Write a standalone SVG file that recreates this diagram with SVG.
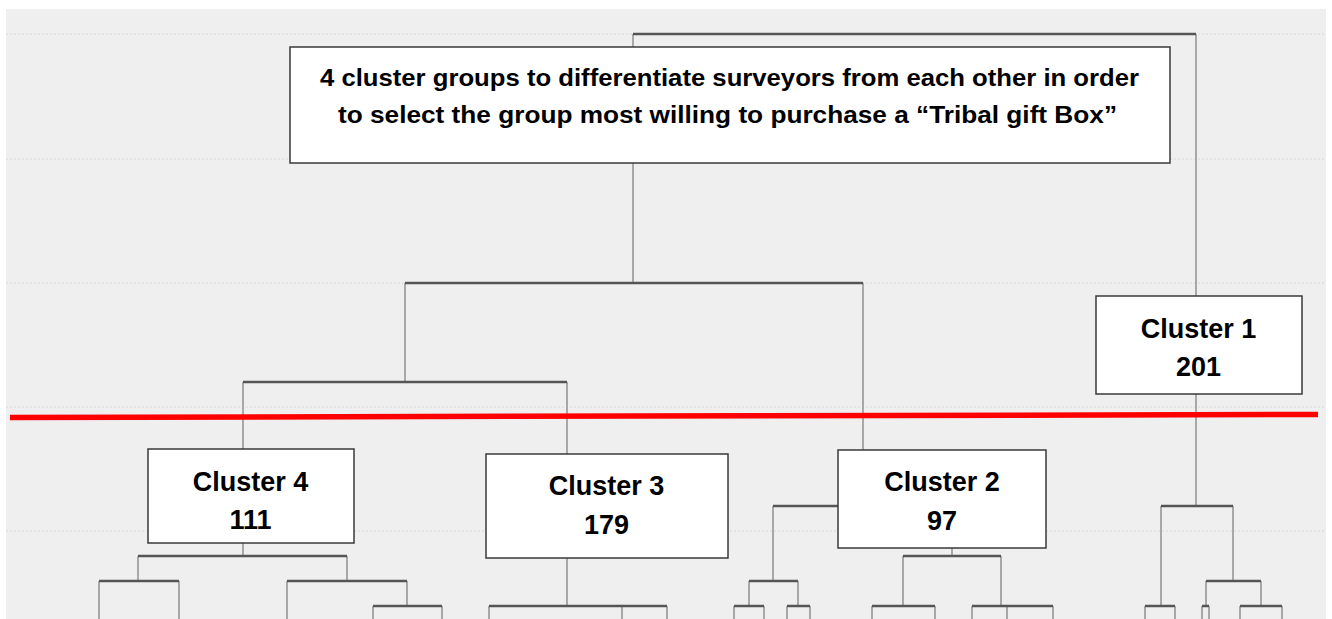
<svg xmlns="http://www.w3.org/2000/svg" width="1332" height="619" viewBox="0 0 1332 619">
<style>
.bg{fill:#efefef}
.grid{stroke:#d9d9d9;stroke-width:1;stroke-dasharray:2 2;fill:none}
.h{stroke:#555555;stroke-width:2.5;fill:none}
.v{stroke:#a8a8a8;stroke-width:2;fill:none}
.box{fill:#ffffff;stroke:#3a3a3a;stroke-width:1.5}
.t{font-family:"Liberation Sans",Arial,sans-serif;font-weight:bold;fill:#000;text-anchor:middle}
.title{font-size:23px}
.lab{font-size:27px}
</style>
<rect width="1332" height="619" fill="#ffffff"/>
<rect class="bg" x="6" y="9" width="1320" height="610"/>
<g id="grid">
<line class="grid" x1="6" y1="34" x2="1326" y2="34"/>
<line class="grid" x1="6" y1="159" x2="1326" y2="159"/>
<line class="grid" x1="6" y1="283" x2="1326" y2="283"/>
<line class="grid" x1="6" y1="407" x2="1326" y2="407"/>
<line class="grid" x1="6" y1="531" x2="1326" y2="531"/>
</g>
<g id="connectors">
<line class="v" x1="633" y1="34" x2="633" y2="283"/>
<line class="v" x1="1196" y1="34" x2="1196" y2="506"/>
<line class="v" x1="405" y1="283" x2="405" y2="382"/>
<line class="v" x1="863" y1="283" x2="863" y2="506"/>
<line class="v" x1="243" y1="382" x2="243" y2="556"/>
<line class="v" x1="567" y1="382" x2="567" y2="606"/>
<line class="v" x1="138" y1="556" x2="138" y2="581"/>
<line class="v" x1="347" y1="556" x2="347" y2="581"/>
<line class="v" x1="99" y1="581" x2="99" y2="619"/>
<line class="v" x1="179" y1="581" x2="179" y2="619"/>
<line class="v" x1="287" y1="581" x2="287" y2="619"/>
<line class="v" x1="407" y1="581" x2="407" y2="606"/>
<line class="v" x1="373" y1="606" x2="373" y2="619"/>
<line class="v" x1="442" y1="606" x2="442" y2="619"/>
<line class="v" x1="489" y1="606" x2="489" y2="619"/>
<line class="v" x1="622" y1="606" x2="622" y2="619"/>
<line class="v" x1="667" y1="606" x2="667" y2="619"/>
<line class="v" x1="773" y1="506" x2="773" y2="581"/>
<line class="v" x1="749" y1="581" x2="749" y2="606"/>
<line class="v" x1="798" y1="581" x2="798" y2="606"/>
<line class="v" x1="734" y1="606" x2="734" y2="619"/>
<line class="v" x1="764" y1="606" x2="764" y2="619"/>
<line class="v" x1="787" y1="606" x2="787" y2="619"/>
<line class="v" x1="810" y1="606" x2="810" y2="619"/>
<line class="v" x1="952" y1="506" x2="952" y2="556"/>
<line class="v" x1="903" y1="556" x2="903" y2="606"/>
<line class="v" x1="1001" y1="556" x2="1001" y2="606"/>
<line class="v" x1="872" y1="606" x2="872" y2="619"/>
<line class="v" x1="935" y1="606" x2="935" y2="619"/>
<line class="v" x1="972" y1="606" x2="972" y2="619"/>
<line class="v" x1="1007" y1="606" x2="1007" y2="619"/>
<line class="v" x1="1053" y1="606" x2="1053" y2="619"/>
<line class="v" x1="1161" y1="506" x2="1161" y2="606"/>
<line class="v" x1="1233" y1="506" x2="1233" y2="581"/>
<line class="v" x1="1145" y1="606" x2="1145" y2="619"/>
<line class="v" x1="1175" y1="606" x2="1175" y2="619"/>
<line class="v" x1="1206" y1="581" x2="1206" y2="606"/>
<line class="v" x1="1261" y1="581" x2="1261" y2="606"/>
<line class="v" x1="1202" y1="606" x2="1202" y2="619"/>
<line class="v" x1="1209" y1="606" x2="1209" y2="619"/>
<line class="v" x1="1240" y1="606" x2="1240" y2="619"/>
<line class="v" x1="1282" y1="606" x2="1282" y2="619"/>
<line class="h" x1="633" y1="34" x2="1196" y2="34"/>
<line class="h" x1="405" y1="283" x2="863" y2="283"/>
<line class="h" x1="243" y1="382" x2="567" y2="382"/>
<line class="h" x1="138" y1="556" x2="347" y2="556"/>
<line class="h" x1="99" y1="581" x2="179" y2="581"/>
<line class="h" x1="287" y1="581" x2="407" y2="581"/>
<line class="h" x1="373" y1="606" x2="442" y2="606"/>
<line class="h" x1="489" y1="606" x2="667" y2="606"/>
<line class="h" x1="773" y1="506" x2="952" y2="506"/>
<line class="h" x1="749" y1="581" x2="798" y2="581"/>
<line class="h" x1="734" y1="606" x2="764" y2="606"/>
<line class="h" x1="787" y1="606" x2="810" y2="606"/>
<line class="h" x1="903" y1="556" x2="1001" y2="556"/>
<line class="h" x1="872" y1="606" x2="935" y2="606"/>
<line class="h" x1="972" y1="606" x2="1053" y2="606"/>
<line class="h" x1="1161" y1="506" x2="1233" y2="506"/>
<line class="h" x1="1145" y1="606" x2="1175" y2="606"/>
<line class="h" x1="1206" y1="581" x2="1261" y2="581"/>
<line class="h" x1="1202" y1="606" x2="1209" y2="606"/>
<line class="h" x1="1240" y1="606" x2="1282" y2="606"/>
</g>
<g id="title">
<rect class="box" x="290" y="47" width="880" height="116"/>
<text class="t title" x="729.5" y="86" textLength="819" lengthAdjust="spacingAndGlyphs">4 cluster groups to differentiate surveyors from each other in order</text>
<text class="t title" x="727.5" y="123" textLength="779" lengthAdjust="spacingAndGlyphs">to select the group most willing to purchase a “Tribal gift Box”</text>
</g>
<g id="cluster1">
<rect class="box" x="1096" y="296" width="206" height="98"/>
<text class="t lab" x="1198.5" y="338">Cluster 1</text>
<text class="t lab" x="1198.5" y="376">201</text>
</g>
<g id="cluster4">
<rect class="box" x="148" y="449" width="206" height="94"/>
<text class="t lab" x="250.5" y="491">Cluster 4</text>
<text class="t lab" x="250.5" y="529">111</text>
</g>
<g id="cluster3">
<rect class="box" x="486" y="454" width="242" height="104"/>
<text class="t lab" x="606.5" y="495">Cluster 3</text>
<text class="t lab" x="606.5" y="534">179</text>
</g>
<g id="cluster2">
<rect class="box" x="838" y="450" width="208" height="98"/>
<text class="t lab" x="942" y="491">Cluster 2</text>
<text class="t lab" x="942" y="530">97</text>
</g>
<g id="cutline">
<line x1="10" y1="417.5" x2="1318" y2="414.5" stroke="#ff0000" stroke-width="5.5"/>
</g>
</svg>
